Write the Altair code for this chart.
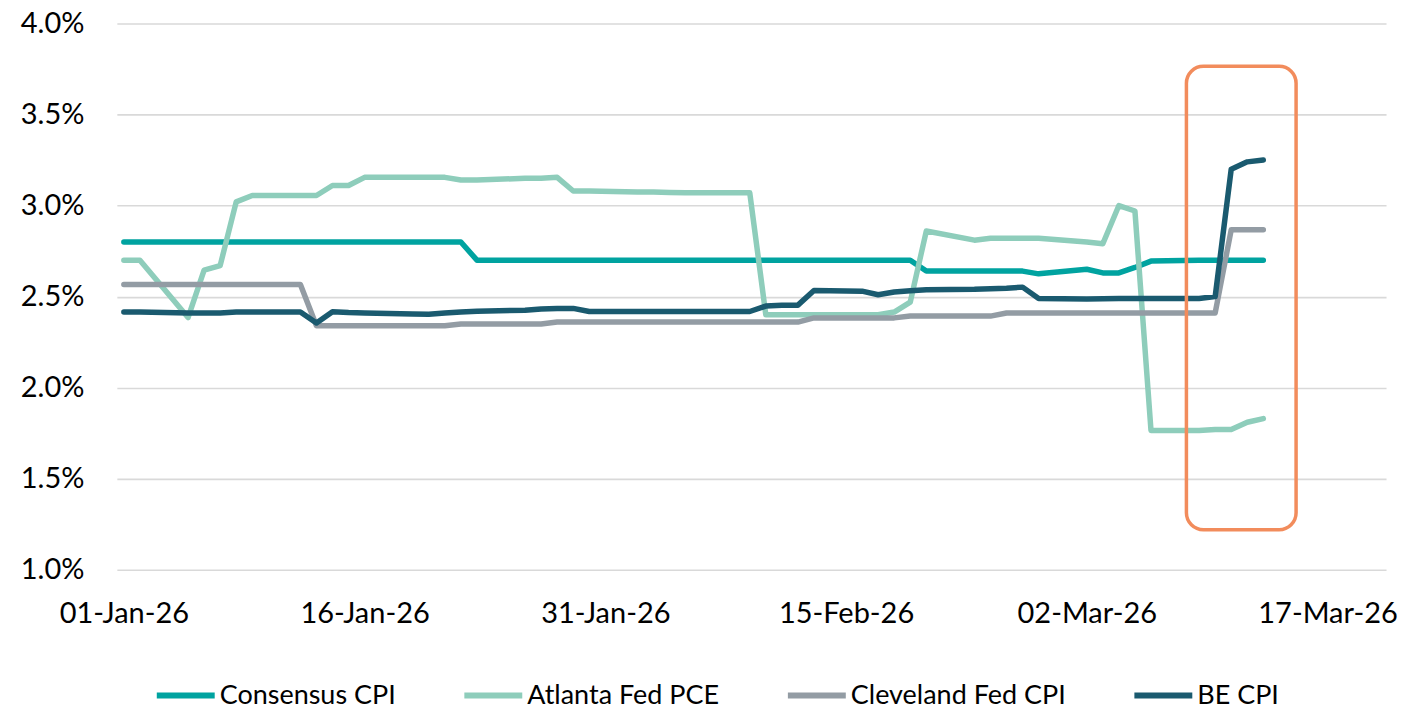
import altair as alt
import pandas as pd

# ---- data ----
dates = [d.strftime("%Y-%m-%d") for d in pd.bdate_range("2026-01-01", "2026-03-13")]

series_names = ["Consensus CPI", "Atlanta Fed PCE", "Cleveland Fed CPI", "BE CPI"]
series_colors = ["#00A3A0", "#8ECDBB", "#939CA4", "#1A5A6F"]

consensus_cpi = [
    2.80, 2.80, 2.80, 2.80, 2.80, 2.80, 2.80, 2.80, 2.80, 2.80, 2.80, 2.80,
    2.80, 2.80, 2.80, 2.80, 2.70, 2.70, 2.70, 2.70, 2.70, 2.70,
    2.70, 2.70, 2.70, 2.70, 2.70, 2.70, 2.70, 2.70, 2.70, 2.70,
    2.70, 2.70, 2.70, 2.70, 2.64, 2.64, 2.64, 2.64, 2.64, 2.625,
    2.65, 2.63, 2.63, 2.66, 2.695, 2.70, 2.70, 2.70, 2.70, 2.70,
]
atlanta_fed_pce = [
    2.70, 2.70, 2.385, 2.645, 2.67, 3.02, 3.055, 3.055, 3.055, 3.11, 3.11, 3.155,
    3.155, 3.155, 3.155, 3.14, 3.14, 3.15, 3.15, 3.155, 3.08, 3.08,
    3.075, 3.075, 3.072, 3.07, 3.07, 3.07, 2.40, 2.40, 2.40, 2.40,
    2.40, 2.40, 2.415, 2.47, 2.86, 2.81, 2.82, 2.82, 2.82, 2.82,
    2.80, 2.79, 3.00, 2.97, 1.765, 1.765, 1.77, 1.77, 1.81, 1.83,
]
cleveland_fed_cpi = [
    2.567, 2.567, 2.567, 2.567, 2.567, 2.567, 2.567, 2.567, 2.34, 2.34, 2.34, 2.34,
    2.34, 2.34, 2.34, 2.35, 2.35, 2.35, 2.35, 2.36, 2.36, 2.36,
    2.36, 2.36, 2.36, 2.36, 2.36, 2.36, 2.36, 2.36, 2.36, 2.383,
    2.383, 2.383, 2.383, 2.393, 2.393, 2.393, 2.393, 2.41, 2.41, 2.41,
    2.41, 2.41, 2.41, 2.41, 2.41, 2.41, 2.41, 2.867, 2.867, 2.867,
]
be_cpi = [
    2.415, 2.415, 2.41, 2.41, 2.41, 2.415, 2.415, 2.415, 2.355, 2.417, 2.412, 2.41,
    2.405, 2.403, 2.41, 2.415, 2.42, 2.425, 2.432, 2.435, 2.435, 2.418,
    2.418, 2.418, 2.418, 2.418, 2.418, 2.418, 2.448, 2.452, 2.453, 2.533,
    2.53, 2.51, 2.525, 2.532, 2.537, 2.54, 2.543, 2.546, 2.552, 2.49,
    2.487, 2.488, 2.49, 2.49, 2.49, 2.49, 2.50, 3.20, 3.24, 3.25,
]

y_ticks = [1.0, 1.5, 2.0, 2.5, 3.0, 3.5, 4.0]
x_tick_days = [(2026, 1, 1), (2026, 1, 16), (2026, 1, 31), (2026, 2, 15), (2026, 3, 2), (2026, 3, 17)]

# highlight box (annotation)
box_x = ["2026-03-08T05:00:00Z"]
box_x2 = ["2026-03-15T01:00:00Z"]
box_y = [3.765]
box_y2 = [1.22]

# ---- build table ----
rows = []
for name, vals in zip(series_names, [consensus_cpi, atlanta_fed_pce, cleveland_fed_cpi, be_cpi]):
    for d, v in zip(dates, vals):
        rows.append({"date": d, "value": v, "series": name})
df = pd.DataFrame(rows)
box_df = pd.DataFrame({"x": box_x, "x2": box_x2, "y": box_y, "y2": box_y2})

x_scale = alt.Scale(
    type="utc",
    domain=[
        alt.DateTime(year=2025, month=12, date=31, hours=13, minutes=30, utc=True),
        alt.DateTime(year=2026, month=3, date=20, hours=15, minutes=30, utc=True),
    ],
)
y_scale = alt.Scale(domain=[1.0, 4.0], nice=False, zero=False)

x_axis = alt.Axis(
    values=[alt.DateTime(year=y, month=m, date=d, utc=True) for (y, m, d) in x_tick_days],
    labelExpr="utcFormat(datum.value, '%d-%b-%y')",
    title=None,
    grid=False,
    ticks=False,
    domain=False,
    labelPadding=30,
    labelFlush=False,
    labelOverlap=False,
)
y_axis = alt.Axis(
    values=y_ticks,
    labelExpr="format(datum.value, '.1f') + '%'",
    title=None,
    ticks=False,
    domain=False,
    grid=True,
    gridColor="#D9D9D9",
    gridWidth=1.6,
    labelPadding=33,
)

lines = alt.Chart(df).mark_line(strokeWidth=5.5, strokeCap="round", strokeJoin="round").encode(
    x=alt.X("date:T", scale=x_scale, axis=x_axis),
    y=alt.Y("value:Q", scale=y_scale, axis=y_axis),
    color=alt.Color(
        "series:N",
        scale=alt.Scale(domain=series_names, range=series_colors),
        sort=series_names,
        legend=alt.Legend(
            title=None,
            orient="none",
            direction="horizontal",
            legendX=37,
            legendY=641,
            symbolType="stroke",
            symbolSize=3364,
            symbolStrokeWidth=6,
            labelFontSize=27,
            labelFont="Lato",
            labelColor="#000000",
            labelOffset=2,
            columnPadding=56,
            labelLimit=400,
        ),
    ),
)

box = alt.Chart(box_df).mark_rect(
    fillOpacity=0, stroke="#F28C5C", strokeWidth=3.5, cornerRadius=17
).encode(
    x=alt.X("x:T", scale=x_scale, axis=x_axis),
    x2="x2:T",
    y=alt.Y("y:Q", scale=y_scale, axis=y_axis),
    y2="y2:Q",
)

chart = alt.layer(lines, box).properties(
    width=1271,
    height=547,
    autosize=alt.AutoSizeParams(type="none"),
    padding={"left": 109, "top": 15, "right": 16, "bottom": 143},
).configure_view(stroke=None).configure_axis(
    labelFont="Lato", labelFontSize=29, labelColor="#000000"
)

chart.save("out.html", embed_options={"renderer": "svg", "actions": False})
